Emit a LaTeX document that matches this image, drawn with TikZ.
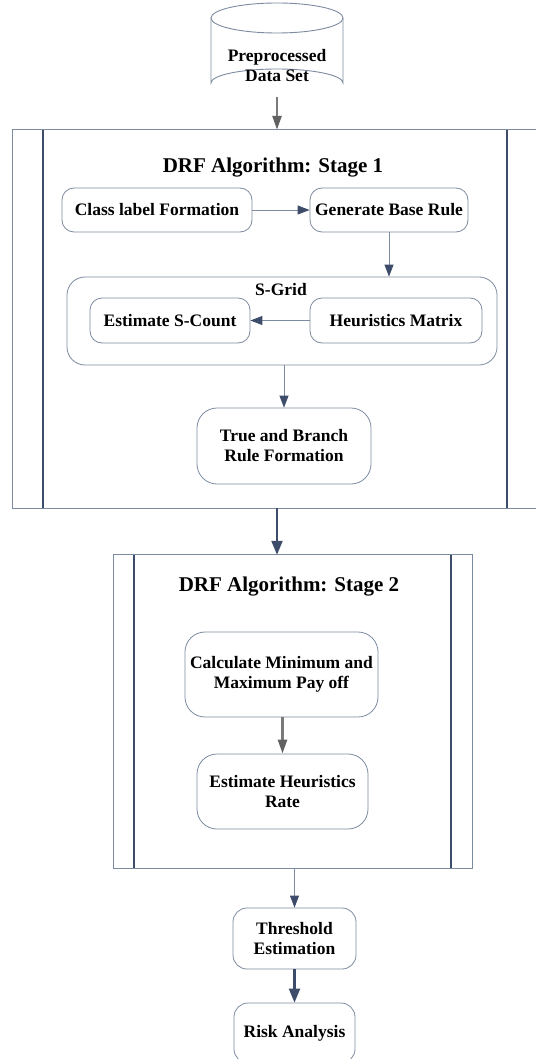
\documentclass[tikz,border=0pt]{standalone}
\usepackage{fontspec}
\setmainfont{Liberation Serif}
\usetikzlibrary{arrows.meta}
\definecolor{boxc}{HTML}{7D8BA0}
\definecolor{navy}{HTML}{3E4C6C}
\definecolor{grayarr}{HTML}{7A7A7A}
\begin{document}
\begin{tikzpicture}[x=1pt,y=-1pt,
  lbl/.style={font=\bfseries\fontsize{17.5}{20}\selectfont,align=center,text=black},
  ttl/.style={font=\bfseries\fontsize{21}{25}\selectfont,text=black},
  box/.style={lbl,draw=boxc,line width=0.8pt,rounded corners=12pt,inner sep=0pt},
  frame/.style={draw=none,inner sep=0pt},
  outerln/.style={draw=boxc,line width=1pt},
  innerln/.style={draw=navy,line width=1.6pt},
  thin/.style={draw=boxc,line width=0.9pt,-{Triangle[width=9pt,length=12pt,color=navy]}},
  thick/.style={draw=navy,line width=2.2pt,-{Triangle[width=11pt,length=14pt]}},
  grey/.style={draw=grayarr,line width=2.6pt,-{Triangle[width=9pt,length=14pt,color=grayarr!80!black]}}]
\useasboundingbox (0,0) rectangle (535,1059);
% cylinder
\draw[boxc,line width=0.9pt,fill=white] (211,18) -- (211,83) arc[start angle=180,end angle=360,x radius=66,y radius=14] -- (343,18);
\draw[boxc,line width=0.9pt] (277,18) ellipse[x radius=66,y radius=15];
\node[lbl] (cyl) at (277,66) {Preprocessed\\Data Set};
\coordinate (cylb) at (277,97);
% stage 1
\node[frame,minimum width=532pt,minimum height=378pt] (s1) at (279,319) {};
\draw[outerln] (s1.north east) -- (s1.north west) -- (s1.south west) -- (s1.south east);
\draw[innerln] (43,130) -- (43,508);
\draw[innerln] (507,130) -- (507,508);
\node[ttl] (t1) at (273,168) {DRF Algorithm: Stage 1};
\node[box,minimum width=190pt,minimum height=44pt] (cls) at (157,210) {Class label Formation};
\node[box,minimum width=158pt,minimum height=44pt] (gen) at (389,210) {Generate Base Rule};
\node[box,rounded corners=18pt,minimum width=430pt,minimum height=88pt] (sgrid) at (282,321) {};
\node[lbl] (sgl) at (281,290) {S-Grid};
\node[box,minimum width=160pt,minimum height=45pt] (est) at (170,320.5) {Estimate S-Count};
\node[box,minimum width=172pt,minimum height=45pt] (heur) at (396,320.5) {Heuristics Matrix};
\node[box,rounded corners=20pt,minimum width=174pt,minimum height=76pt] (tb) at (284,446) {True and Branch\\Rule Formation};
% stage 2
\node[frame,minimum width=358pt,minimum height=313pt] (s2) at (293,711.5) {};
\draw[outerln] (s2.south west) rectangle (s2.north east);
\draw[innerln] (134,555) -- (134,868);
\draw[innerln] (451,555) -- (451,868);
\node[ttl] (t2) at (289,587) {DRF Algorithm: Stage 2};
\node[box,rounded corners=20pt,minimum width=193pt,minimum height=85pt] (calc) at (281.5,674.5) {Calculate Minimum and\\Maximum Pay off};
\node[box,rounded corners=20pt,minimum width=171pt,minimum height=75pt] (ehr) at (282.5,791.5) {Estimate Heuristics\\Rate};
% after
\node[box,rounded corners=14pt,minimum width=123pt,minimum height=61pt] (thr) at (294.5,938.5) {Threshold\\Estimation};
\node[box,rounded corners=14pt,minimum width=121pt,minimum height=60pt] (risk) at (294.5,1033) {Risk Analysis};
% connectors
\draw[grey] (cylb) -- (cylb |- s1.north);
\draw[thin] (cls.east) -- (gen.west);
\draw[thin] (gen.south) -- (gen.south |- sgrid.north);
\draw[thin] (heur.west) -- (est.east);
\draw[thin] (tb.north |- sgrid.south) -- (tb.north);
\draw[thick] ([xshift=-2pt]s1.south) -- ([xshift=-2pt]s1.south |- s2.north);
\draw[grey] (ehr.north |- calc.south) -- (ehr.north);
\draw[thin] (thr.north |- s2.south) -- (thr.north);
\draw[thick] (thr.south) -- (risk.north);
\end{tikzpicture}
\end{document}
